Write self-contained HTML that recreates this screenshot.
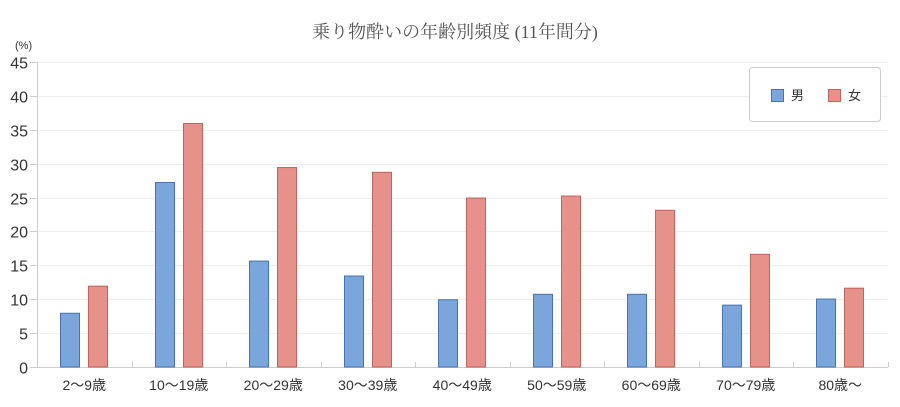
<!DOCTYPE html>
<html><head><meta charset="utf-8"><style>
body{margin:0;background:#fff}
text{font-family:"Liberation Sans","Noto Sans CJK JP",sans-serif;fill:#333}
</style></head><body>
<svg width="900" height="402" viewBox="0 0 900 402" xmlns="http://www.w3.org/2000/svg">
<text x="455" y="38" text-anchor="middle" font-size="18" style="font-family:'Liberation Serif','Noto Serif CJK SC',serif;fill:#555">乗り物酔いの年齢別頻度 (11年間分)</text>
<text x="15" y="49" font-size="11">(%)</text>
<g id="grid"></g>
<g id="bars"></g>
<rect x="749.5" y="67.5" width="131" height="54" rx="3" fill="#fff" stroke="#ccc"/>
<rect x="771.5" y="89.5" width="12" height="12" fill="#7ba6dc" stroke="#4a72b0"/>
<text x="791" y="100" font-size="13">男</text>
<rect x="828.5" y="89.5" width="12" height="12" fill="#e69189" stroke="#c0635a"/>
<text x="848" y="100" font-size="13">女</text>
</svg>
<script>
const ns="http://www.w3.org/2000/svg";
const g=document.getElementById('grid'),b=document.getElementById('bars');
function el(p,t,a,txt){const e=document.createElementNS(ns,t);for(const k in a)e.setAttribute(k,a[k]);if(txt!==undefined)e.textContent=txt;p.appendChild(e);return e;}
const y0=367,s=305/45;
for(let v=0;v<=45;v+=5){const y=Math.round(y0-v*s)+0.5;
 if(v>0)el(g,'line',{x1:37,x2:888,y1:y,y2:y,stroke:'#eee'});
 el(g,'line',{x1:30,x2:37,y1:y,y2:y,stroke:'#ccc'});
 el(g,'text',{x:28,y:y+6,'text-anchor':'end','font-size':16},v);}
el(g,'line',{x1:37.5,x2:37.5,y1:62,y2:367,stroke:'#ccc'});
el(g,'line',{x1:37,x2:888,y1:367.5,y2:367.5,stroke:'#ccc'});
const cats=['2〜9歳','10〜19歳','20〜29歳','30〜39歳','40〜49歳','50〜59歳','60〜69歳','70〜79歳','80歳〜'];
const m=[8,27.3,15.7,13.5,10,10.8,10.8,9.2,10.1],f=[12,36,29.5,28.8,25,25.3,23.2,16.7,11.7];
const w=94.5;
for(let i=0;i<9;i++){const c=37+w*i+w/2;
 const bx=Math.round(37+w*(i+1))+0.5;el(g,'line',{x1:bx,x2:bx,y1:362,y2:367,stroke:'#ccc'});
 el(g,'text',{x:c,y:390,'text-anchor':'middle','font-size':14},cats[i]);
 const mx=Math.round(c-24),fx=Math.round(c+4);
 const mh=m[i]*s,fh=f[i]*s;
 el(b,'rect',{x:mx+0.5,y:y0-mh+0.5,width:19,height:mh-0.5,fill:'#7ba6dc',stroke:'#4a72b0'});
 el(b,'rect',{x:fx+0.5,y:y0-fh+0.5,width:19,height:fh-0.5,fill:'#e69189',stroke:'#c0635a'});}
</script>
</body></html>
